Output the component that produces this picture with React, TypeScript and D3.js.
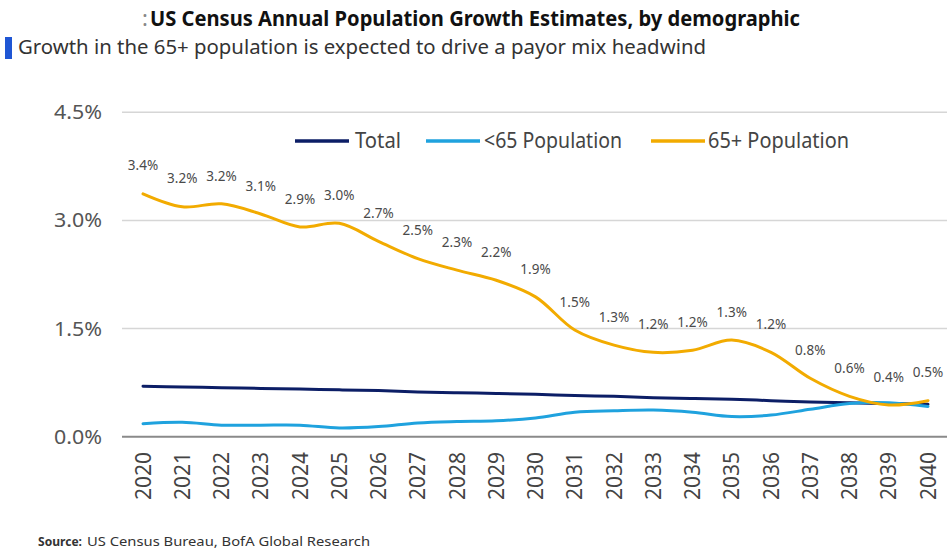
import React from "react";
import * as d3 from "d3";

const years = [2020, 2021, 2022, 2023, 2024, 2025, 2026, 2027, 2028, 2029, 2030, 2031, 2032, 2033, 2034, 2035, 2036, 2037, 2038, 2039, 2040];
const total = [0.70, 0.69, 0.68, 0.67, 0.66, 0.65, 0.64, 0.62, 0.61, 0.60, 0.59, 0.57, 0.56, 0.54, 0.53, 0.52, 0.50, 0.48, 0.47, 0.46, 0.45];
const under65 = [0.18, 0.20, 0.16, 0.16, 0.16, 0.12, 0.14, 0.19, 0.21, 0.22, 0.26, 0.34, 0.36, 0.37, 0.34, 0.28, 0.30, 0.38, 0.46, 0.47, 0.42];
const over65 = [3.37, 3.19, 3.23, 3.09, 2.91, 2.96, 2.71, 2.47, 2.31, 2.17, 1.94, 1.48, 1.27, 1.17, 1.20, 1.34, 1.17, 0.81, 0.56, 0.44, 0.50];
const yTicks = [0, 1.5, 3.0, 4.5];

const seriesNames = ["Total", "<65 Population", "65+ Population"];
const colors = ["#0c1e66", "#1fa2de", "#f2ab00"];

const title = "US Census Annual Population Growth Estimates, by demographic";
const subtitle = "Growth in the 65+ population is expected to drive a payor mix headwind";

const FONT = "'Noto Sans', 'Open Sans', sans-serif";

export default function App() {
  const W = 947;
  const H = 554;
  const x = d3.scaleLinear().domain([2020, 2040]).range([143, 928]);
  const y = d3.scaleLinear().domain([0, 4.5]).range([436.7, 112.3]);
  const line = d3
    .line<[number, number]>()
    .x((d) => x(d[0]))
    .y((d) => y(d[1]))
    .curve(d3.curveCatmullRom.alpha(0.5));

  const series = [total, under65, over65];

  const legend = [
    { lx: 295, lw: 54, tx: 355, tl: 46 },
    { lx: 426, lw: 54, tx: 484, tl: 138 },
    { lx: 651, lw: 54, tx: 708, tl: 141 },
  ];

  return (
    <svg
      width={W}
      height={H}
      style={{ position: "absolute", left: 0, top: 0, background: "#fff" }}
      fontFamily={FONT}
    >
      {/* Title */}
      <text x={142} y={26} fontSize={22} fontWeight={400} fill="#888">:</text>
      <text
        x={150}
        y={26}
        fontSize={22}
        fontWeight={700}
        fill="#111"
        textLength={650}
        lengthAdjust="spacingAndGlyphs"
      >
        {title}
      </text>
      {/* Subtitle */}
      <rect x={5} y={37} width={7} height={22} fill="#1f56d4" />
      <text
        x={18}
        y={54}
        fontSize={20}
        fill="#333"
        textLength={688}
        lengthAdjust="spacingAndGlyphs"
      >
        {subtitle}
      </text>

      {/* Gridlines */}
      {yTicks.map((t) => (
        <g key={t}>
          <line
            x1={122}
            x2={947}
            y1={y(t)}
            y2={y(t)}
            stroke={t === 0 ? "#8a8a8a" : "#d6d6d6"}
            strokeWidth={t === 0 ? 2 : 1.5}
          />
          <text
            x={102}
            y={y(t)}
            dy="0.35em"
            textAnchor="end"
            fontSize={20}
            fill="#555"
            textLength={48}
            lengthAdjust="spacingAndGlyphs"
          >
            {t.toFixed(1) + "%"}
          </text>
        </g>
      ))}

      {/* X tick labels */}
      {years.map((yr) => (
        <text
          key={yr}
          transform={`translate(${x(yr)},452) rotate(-90)`}
          textAnchor="end"
          dy="0.36em"
          fontSize={21}
          fill="#444"
        >
          {String(yr)}
        </text>
      ))}

      {/* Lines */}
      {series.map((s, i) => (
        <path
          key={i}
          d={line(years.map((yr, j) => [yr, s[j]] as [number, number])) || ""}
          fill="none"
          stroke={colors[i]}
          strokeWidth={3}
          strokeLinejoin="round"
          strokeLinecap="round"
        />
      ))}

      {/* Data labels for 65+ */}
      {years.map((yr, j) => (
        <text
          key={"l" + yr}
          x={x(yr)}
          y={y(over65[j]) - 28}
          dy="0.35em"
          textAnchor="middle"
          fontSize={13.5}
          fill="#4a4a4a"
        >
          {over65[j].toFixed(1) + "%"}
        </text>
      ))}

      {/* Legend */}
      {seriesNames.map((n, i) => (
        <g key={n}>
          <line
            x1={legend[i].lx}
            x2={legend[i].lx + legend[i].lw}
            y1={141}
            y2={141}
            stroke={colors[i]}
            strokeWidth={3.5}
          />
          <text
            x={legend[i].tx}
            y={141}
            dy="0.35em"
            fontSize={21}
            fill="#444"
            textLength={legend[i].tl}
            lengthAdjust="spacingAndGlyphs"
          >
            {n}
          </text>
        </g>
      ))}

      {/* Source */}
      <text x={38} y={546} fontSize={13} fill="#333">
        <tspan fontWeight={700} textLength={44} lengthAdjust="spacingAndGlyphs">Source:</tspan>
        <tspan x={87} textLength={283} lengthAdjust="spacingAndGlyphs">US Census Bureau, BofA Global Research</tspan>
      </text>
    </svg>
  );
}
